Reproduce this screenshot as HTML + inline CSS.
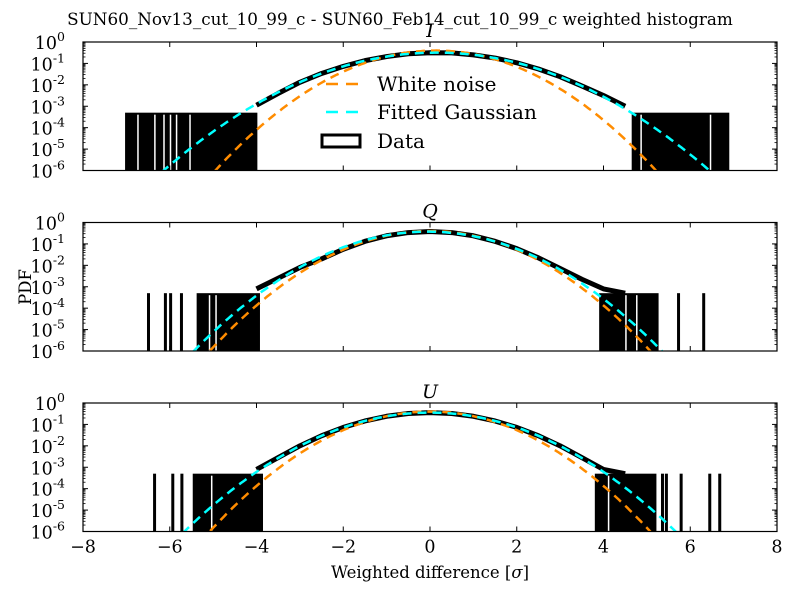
<!DOCTYPE html>
<html><head><meta charset="utf-8"><style>
body{margin:0;background:#fff}
svg text{font-family:"DejaVu Serif","Liberation Serif",serif;fill:#000}
</style></head><body>
<svg id="chart" xmlns="http://www.w3.org/2000/svg" width="800" height="600" viewBox="0 0 800 600">
<rect width="800" height="600" fill="#fff"/>
<text x="400" y="25" font-size="16.8" text-anchor="middle">SUN60_Nov13_cut_10_99_c - SUN60_Feb14_cut_10_99_c weighted histogram</text>
<text x="0" y="0" font-size="16.5" text-anchor="middle" transform="translate(31,287) rotate(-90)">PDF</text>
<text x="430" y="578" font-size="16.5" text-anchor="middle">Weighted difference [<tspan font-style="italic">σ</tspan>]</text>
<g id="panels"></g>
</svg>
<script>
// ---- data ----
const panelNames = ["I", "Q", "U"];
const xTicks = [-8, -6, -4, -2, 0, 2, 4, 6, 8];
const yTickExps = [0, -1, -2, -3, -4, -5, -6];
const whiteMu = [0.13, 0.0, 0.0];
const whiteSigma = [1.0, 1.0, 1.0];
const fitMu = [0.15, -0.05, 0.0];
const fitSigma = [1.25, 1.065, 1.12];
const coreX = [-4, -3.5, -3, -2.5, -2, -1.5, -1, -0.5, 0, 0.5, 1, 1.5, 2, 2.5, 3, 3.5, 4, 4.5];
const coreLogI = [-2.95, -2.4, -1.88, -1.47, -1.14, -0.87, -0.68, -0.55, -0.5, -0.51, -0.6, -0.75, -0.97, -1.26, -1.62, -2.05, -2.5, -3.0];
const coreLogQ = [-3.1, -2.6, -2.1, -1.7, -1.25, -0.88, -0.62, -0.47, -0.42, -0.47, -0.62, -0.88, -1.22, -1.65, -2.15, -2.65, -3.1, -3.3];
const coreLogU = [-3.1, -2.55, -2.0, -1.53, -1.14, -0.84, -0.62, -0.49, -0.45, -0.49, -0.62, -0.84, -1.14, -1.53, -2.0, -2.55, -3.1, -3.3];
const singleCountLog = -3.3;
const denseI = [[-7.03, -3.98], [4.65, 6.9]];
const denseQ = [[-5.38, -3.92], [3.9, 5.27]];
const denseU = [[-5.47, -3.85], [3.8, 5.22]];
const spikesI = [];
const spikesQ = [-6.49, -6.1, -5.98, -5.73, 5.73, 6.31];
const spikesU = [-6.35, -5.93, -5.72, 5.36, 5.45, 5.79, 6.45, 6.68];
const gapsI = [-6.75, -6.36, -6.15, -6.0, -5.86, -5.55, 4.85, 6.45];
const gapsQ = [-5.1, -4.95, 4.5, 4.75];
const gapsU = [-5.05, 4.1];

const cores = [coreLogI, coreLogQ, coreLogU];
const denses = [denseI, denseQ, denseU];
const spikes = [spikesI, spikesQ, spikesU];
const gaps = [gapsI, gapsQ, gapsU];

const NS = "http://www.w3.org/2000/svg";
const X0 = 83, X1 = 777, H = 128.5;
const tops = [42, 222.5, 403];
const sx = v => X0 + (v + 8) / 16 * (X1 - X0);
const root = document.getElementById("panels");
function mk(tag, attrs, parent) {
  const e = document.createElementNS(NS, tag);
  for (const k in attrs) e.setAttribute(k, attrs[k]);
  parent.appendChild(e);
  return e;
}
function gaussLog(x, mu, s) {
  return Math.log10(Math.exp(-(x - mu) * (x - mu) / (2 * s * s)) / (s * Math.sqrt(2 * Math.PI)));
}

panelNames.forEach((nm, p) => {
  const top = tops[p];
  const sy = l => top + (0 - l) / 6 * H;
  const g = mk("g", {}, root);
  
  
  mk("defs", {}, g).innerHTML = `<clipPath id="clip${p}"><rect x="${X0}" y="${top}" width="${X1 - X0}" height="${H}"/></clipPath>`;
  const plot = mk("g", {"clip-path": `url(#clip${p})`}, g);

  denses[p].forEach(r => {
    const d = mk("rect", {x: sx(r[0]), y: sy(singleCountLog), width: sx(r[1]) - sx(r[0]), height: top + H - sy(singleCountLog), fill: "#000"}, plot);
    
    
  });
  gaps[p].forEach(v => {
    mk("rect", {x: sx(v), y: sy(singleCountLog) + 2, width: 1.5, height: top + H - sy(singleCountLog) - 2, fill: "#fff"}, plot);
  });
  spikes[p].forEach(v => {
    const s = mk("rect", {x: sx(v) - 1.5, y: sy(singleCountLog), width: 3, height: top + H - sy(singleCountLog), fill: "#000"}, plot);
    
    
  });
  const pts = coreX.map((x, i) => sx(x) + "," + sy(cores[p][i])).join(" ");
  const core = mk("polyline", {points: pts, fill: "none", stroke: "#000", "stroke-width": 5, "stroke-linejoin": "round"}, plot);
  
  

  function curve(mu, s, col, name) {
    const a = [];
    for (let x = -8; x <= 8.001; x += 0.05) {
      const l = gaussLog(x, mu, s);
      if (l > -6.6) a.push(sx(x).toFixed(1) + "," + sy(l).toFixed(1));
    }
    const c = mk("polyline", {points: a.join(" "), fill: "none", stroke: col, "stroke-width": 2.5, "stroke-dasharray": "9,6"}, plot);
    
    
  }
  curve(whiteMu[p], whiteSigma[p], "#ff8c00", "white-noise-curve");
  curve(fitMu[p], fitSigma[p], "#00ffff", "fitted-gaussian-curve");

  const fr = mk("rect", {x: X0, y: top, width: X1 - X0, height: H, fill: "none", stroke: "#000", "stroke-width": 1.2}, g);
  
  
  xTicks.forEach(t => {
    mk("line", {x1: sx(t), x2: sx(t), y1: top, y2: top + 5, stroke: "#000"}, g);
    mk("line", {x1: sx(t), x2: sx(t), y1: top + H, y2: top + H - 5, stroke: "#000"}, g);
    if (p === 2) {
      const tl = mk("text", {x: sx(t), y: top + H + 21, "font-size": 17.5, "text-anchor": "middle"}, g);
      tl.textContent = (t < 0 ? "\u2212" + (-t) : "" + t);
      
      
    }
  });
  yTickExps.forEach(e => {
    const y = sy(e);
    mk("line", {x1: X0, x2: X0 + 5, y1: y, y2: y, stroke: "#000"}, g);
    mk("line", {x1: X1, x2: X1 - 5, y1: y, y2: y, stroke: "#000"}, g);
    if (e > -6) for (let m = 2; m < 10; m++) {
      const ym = sy(e - 1 + Math.log10(m));
      mk("line", {x1: X0, x2: X0 + 2.5, y1: ym, y2: ym, stroke: "#000", "stroke-width": 0.8}, g);
      mk("line", {x1: X1, x2: X1 - 2.5, y1: ym, y2: ym, stroke: "#000", "stroke-width": 0.8}, g);
    }
    const tl = mk("text", {x: 65, y: y + 7, "font-size": 17.5, "text-anchor": "end"}, g);
    tl.innerHTML = `10<tspan dy="-8" font-size="12.5">${e === 0 ? "0" : "-" + (-e)}</tspan>`;
    
    
  });
  const pt = mk("text", {x: 430, y: top - 5, "font-size": 19, "font-style": "italic", "text-anchor": "middle"}, g);
  pt.textContent = nm;
  
  
});

const svg = document.getElementById("chart");
const lg = mk("g", {}, svg);


mk("line", {x1: 322, x2: 358, y1: 84, y2: 84, stroke: "#ff8c00", "stroke-width": 2.5, "stroke-dasharray": "12,8", "stroke-dashoffset": -4}, lg);
mk("line", {x1: 322, x2: 358, y1: 112, y2: 112, stroke: "#00ffff", "stroke-width": 2.5, "stroke-dasharray": "12,8", "stroke-dashoffset": -4}, lg);
mk("rect", {x: 322, y: 135, width: 38, height: 12, fill: "none", stroke: "#000", "stroke-width": 3}, lg);
[["White noise", 91], ["Fitted Gaussian", 119], ["Data", 148]].forEach(([t, y]) => {
  const e = mk("text", {x: 377, y: y, "font-size": 20}, lg);
  e.textContent = t;
  
  
});
</script>
</body></html>
